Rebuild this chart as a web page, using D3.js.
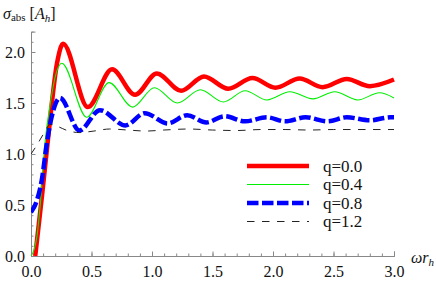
<!DOCTYPE html>
<html>
<head>
<meta charset="utf-8">
<script src="https://cdn.jsdelivr.net/npm/d3@7"></script>
<style>
	body { margin: 0; background: #fff; }
	svg { display: block; }
	svg text { font-family: "Liberation Serif", "DejaVu Serif", "Noto Serif", "Times New Roman", Times, serif; }
</style>
</head>
<body>
<svg id="chart" width="436" height="281"></svg>
<script>
// values
var seriesNames = ["q=0.0", "q=0.4", "q=0.8", "q=1.2"];

var q00x = [0.035, 0.09, 0.14, 0.215, 0.265, 0.47, 0.67, 0.86, 1.04, 1.24, 1.43, 1.63, 1.83, 2.02, 2.22, 2.41, 2.61, 2.80, 3.0];
var q00y = [0.0, 0.58, 1.14, 1.89, 2.08, 1.46, 1.83, 1.58, 1.79, 1.62, 1.76, 1.64, 1.745, 1.65, 1.74, 1.655, 1.735, 1.665, 1.73];

var q04x = [0.0, 0.025, 0.05, 0.08, 0.115, 0.16, 0.21, 0.255, 0.46, 0.645, 0.84, 1.02, 1.21, 1.40, 1.59, 1.77, 1.95, 2.14, 2.33, 2.51, 2.70, 2.88, 3.0];
var q04y = [0.0, 0.06, 0.2, 0.55, 1.1, 1.5, 1.8, 1.89, 1.36, 1.70, 1.46, 1.65, 1.50, 1.63, 1.51, 1.62, 1.53, 1.61, 1.54, 1.61, 1.53, 1.60, 1.55];

var q08x = [0.0, 0.05, 0.09, 0.13, 0.17, 0.24, 0.40, 0.57, 0.78, 0.94, 1.13, 1.29, 1.45, 1.60, 1.77, 1.95, 2.10, 2.27, 2.45, 2.61, 2.80, 2.97, 3.0];
var q08y = [0.43, 0.55, 0.75, 1.1, 1.36, 1.55, 1.23, 1.43, 1.28, 1.40, 1.30, 1.38, 1.31, 1.37, 1.32, 1.36, 1.32, 1.36, 1.32, 1.36, 1.33, 1.36, 1.36];

var q12x = [0.0, 0.05, 0.1, 0.16, 0.22, 0.3, 0.4, 0.52, 0.65, 0.8, 0.95, 1.1, 1.3, 1.5, 1.7, 1.9, 2.1, 2.3, 2.5, 2.7, 2.9, 3.0];
var q12y = [1.0, 1.09, 1.19, 1.29, 1.27, 1.23, 1.21, 1.225, 1.245, 1.235, 1.225, 1.235, 1.245, 1.235, 1.23, 1.24, 1.24, 1.235, 1.24, 1.24, 1.24, 1.24];

var xMajor = [0, 0.5, 1.0, 1.5, 2.0, 2.5, 3.0];
var yMajor = [0, 0.5, 1.0, 1.5, 2.0];

var serif = "'Liberation Serif', 'DejaVu Serif', 'Noto Serif', serif";

function zip(xs, ys){
	var pts = [];
	for(var i = 0; i < xs.length; i++)
		pts.push([xs[i], ys[i]]);
	return pts;
}

function minorTicks(lo, hi){
	var t = [];
	for(var i = Math.round(lo * 10); i <= Math.round(hi * 10); i++)
		t.push(i / 10);
	return t;
}

function draw(){
	var svg = d3.select("#chart");
	var x = d3.scaleLinear().domain([0, 3]).range([31, 394]);
	var y = d3.scaleLinear().domain([0, 2.2]).range([256, 31.6]);

	var styles = [
		{color: "#ff0000", width: 4.5, dash: null},
		{color: "#00ee00", width: 1.1, dash: null},
		{color: "#0000ff", width: 4.5, dash: "11.5,3.5"},
		{color: "#222222", width: 1, dash: "7.5,7.5"}
	];
	var data = [zip(q00x, q00y), zip(q04x, q04y), zip(q08x, q08y), zip(q12x, q12y)];

	svg.append("clipPath").attr("id", "plotclip")
		.append("rect").attr("x", 31).attr("y", 20).attr("width", 366).attr("height", 236);

	// axes
	var gx = svg.append("g").attr("transform", "translate(0,256)");
	gx.call(d3.axisBottom(x).tickValues(minorTicks(0, 3)).tickFormat("").tickSize(-2.5));
	gx.append("g").call(d3.axisBottom(x).tickValues(xMajor).tickFormat(d3.format(".1f")).tickSize(-4.5).tickPadding(9.5));

	var gy = svg.append("g").attr("transform", "translate(31,0)");
	gy.call(d3.axisLeft(y).tickValues(minorTicks(0, 2.1)).tickFormat("").tickSize(-2.5));
	gy.append("g").call(d3.axisLeft(y).tickValues(yMajor).tickFormat(d3.format(".1f")).tickSize(-4.5).tickPadding(6));

	svg.selectAll("g").attr("font-family", serif);
	svg.selectAll(".domain").attr("stroke", "#888").attr("stroke-width", 1);
	svg.selectAll(".tick line").attr("stroke", "#888");
	svg.selectAll(".tick text").attr("font-size", 16).attr("fill", "#111");

	// curves
	var line = d3.line()
		.x(function(d){ return x(d[0]); })
		.y(function(d){ return y(d[1]); })
		.curve(d3.curveMonotoneX);

	svg.append("g").attr("clip-path", "url(#plotclip)")
		.selectAll("path")
		.data(data)
		.enter()
		.append("path")
		.attr("d", line)
		.attr("fill", "none")
		.attr("stroke", function(d, i){ return styles[i].color; })
		.attr("stroke-width", function(d, i){ return styles[i].width; })
		.attr("stroke-dasharray", function(d, i){ return styles[i].dash; });

	// legend
	var leg = svg.append("g");
	seriesNames.forEach(function(name, i){
		var ly = 166 + i * 18.5;
		leg.append("line")
			.attr("x1", 247).attr("x2", 309)
			.attr("y1", ly).attr("y2", ly)
			.attr("stroke", styles[i].color)
			.attr("stroke-width", styles[i].width)
			.attr("stroke-dasharray", styles[i].dash);
		leg.append("text")
			.attr("x", 323).attr("y", ly + 5.5)
			.attr("font-size", 17)
			.attr("font-family", serif)
			.attr("fill", "#111")
			.text(name);
	});

	// axis titles
	var t = svg.append("text").attr("x", 3).attr("y", 19).attr("font-size", 16)
		.attr("font-family", serif).attr("fill", "#111");
	t.append("tspan").attr("font-style", "italic").text("σ");
	t.append("tspan").attr("font-size", 11).attr("dy", 2).text("abs");
	t.append("tspan").attr("dy", -2).text(" [");
	t.append("tspan").attr("font-style", "italic").text("A");
	t.append("tspan").attr("font-style", "italic").attr("font-size", 11).attr("dy", 3).text("h");
	t.append("tspan").attr("dy", -3).text("]");

	var xl = svg.append("text").attr("x", 411).attr("y", 263).attr("font-size", 16)
		.attr("font-family", serif).attr("fill", "#111");
	xl.append("tspan").attr("font-style", "italic").text("ωr");
	xl.append("tspan").attr("font-style", "italic").attr("font-size", 11).attr("dy", 3).text("h");
}

draw();
</script>
</body>
</html>
